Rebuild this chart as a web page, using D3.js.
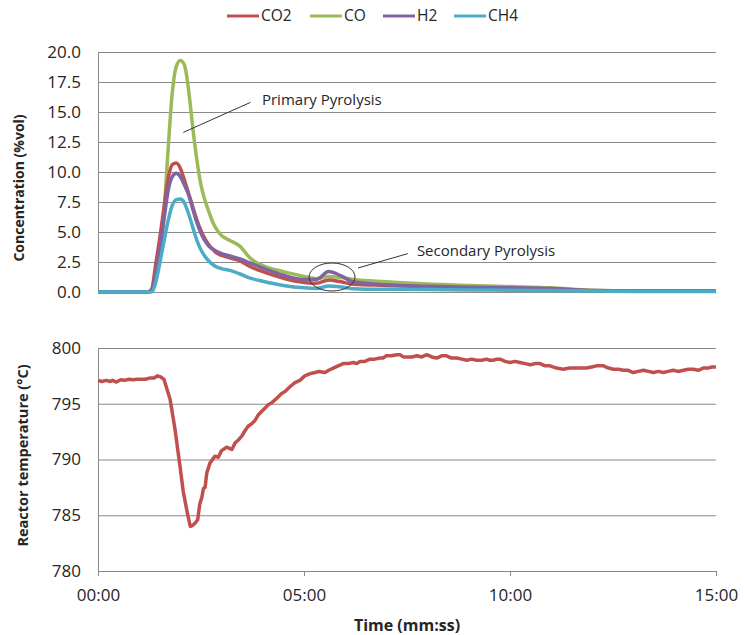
<!DOCTYPE html>
<html>
<head>
<meta charset="utf-8">
<script src="https://cdn.jsdelivr.net/npm/d3@7"></script>
<style>
  body { margin: 0; background: #fff; }
  svg { display: block; font-family: "Open Sans", sans-serif; }
</style>
</head>
<body>
<div id="chart"></div>
<script>
// gas concentrations (%vol) sampled at gasTime (minutes)
const gasTime = [0, 1.0, 1.2, 1.3, 1.4, 1.5, 1.6, 1.7, 1.8, 1.9, 2.0, 2.1, 2.2, 2.3, 2.4, 2.5, 2.6, 2.7, 2.8, 2.9,
  3.0, 3.2, 3.45, 3.7, 4.0, 4.5, 5.0, 5.3, 5.6, 5.9, 6.2, 7.0, 8.0, 9.0, 10.0, 11.0, 12.0, 13.0, 14.0, 15.0];
const co2 = [0, 0, 0, 0.2, 2.3, 4.5, 7.0, 9.4, 10.6, 10.75, 10.3, 9.3, 8.2, 7.1, 6.0, 5.1, 4.4, 3.9, 3.5, 3.2,
  3.05, 2.85, 2.6, 2.1, 1.7, 1.15, 0.8, 0.72, 1.0, 0.85, 0.65, 0.55, 0.42, 0.32, 0.3, 0.25, 0.1, 0.07, 0.07, 0.07];
const co = [0, 0, 0, 0.2, 1.2, 3.0, 6.5, 11.8, 16.5, 18.8, 19.3, 18.9, 16.8, 13.7, 11.0, 8.9, 7.6, 6.6, 5.7, 5.1,
  4.7, 4.3, 3.8, 2.8, 2.2, 1.7, 1.3, 1.1, 1.3, 1.2, 1.05, 0.86, 0.67, 0.55, 0.45, 0.35, 0.15, 0.1, 0.1, 0.1];
const h2 = [0, 0, 0, 0.1, 1.5, 3.5, 6.0, 8.4, 9.6, 9.9, 9.6, 8.9, 8.1, 6.9, 5.8, 4.9, 4.25, 3.8, 3.55, 3.35,
  3.2, 3.0, 2.75, 2.4, 2.0, 1.4, 1.05, 1.05, 1.7, 1.35, 0.85, 0.6, 0.48, 0.4, 0.35, 0.3, 0.12, 0.08, 0.08, 0.08];
const ch4 = [0, 0, 0, 0, 0.8, 2.4, 4.2, 5.9, 7.2, 7.7, 7.75, 7.4, 6.5, 5.4, 4.3, 3.5, 2.95, 2.55, 2.25, 2.05,
  1.95, 1.8, 1.5, 1.15, 0.9, 0.55, 0.35, 0.3, 0.5, 0.42, 0.28, 0.22, 0.2, 0.17, 0.15, 0.12, 0.08, 0.05, 0.05, 0.05];

const gasNames = ["CO2", "CO", "H2", "CH4"];
const gasColors = ["#c0504d", "#9bbb59", "#8064a2", "#4bacc6"];

// reactor temperature (°C)
const tempTime = [0, 0.1, 0.2, 0.3, 0.35, 0.45, 0.55, 0.65, 0.75, 0.85, 0.95, 1.05, 1.15, 1.25, 1.35, 1.45, 1.52, 1.6,
  1.75, 1.87, 1.99, 2.07, 2.18, 2.24, 2.3, 2.36, 2.42, 2.47, 2.52, 2.56, 2.6, 2.64, 2.72, 2.84, 2.92, 3.0, 3.12,
  3.25, 3.33, 3.42, 3.49, 3.57, 3.65, 3.73, 3.81, 3.89, 3.97, 4.05, 4.13, 4.22, 4.34, 4.45, 4.54, 4.65, 4.78, 4.9,
  5.02, 5.15, 5.27, 5.36, 5.51, 5.6, 5.71, 5.83, 5.95, 6.07, 6.2, 6.28, 6.36, 6.48, 6.6, 6.72, 6.84, 6.92, 7.0,
  7.12, 7.25, 7.33, 7.41, 7.49, 7.62, 7.74, 7.86, 7.98, 8.1, 8.22, 8.34, 8.46, 8.58, 8.71, 8.83, 8.95, 9.07, 9.19,
  9.31, 9.43, 9.51, 9.59, 9.68, 9.76, 9.88, 10.0, 10.12, 10.24, 10.37, 10.49, 10.61, 10.73, 10.85, 10.97, 11.13,
  11.29, 11.45, 11.62, 11.74, 11.86, 11.98, 12.1, 12.18, 12.27, 12.39, 12.51, 12.63, 12.75, 12.87, 12.99, 13.11,
  13.24, 13.36, 13.48, 13.6, 13.72, 13.84, 13.96, 14.08, 14.21, 14.33, 14.45, 14.57, 14.69, 14.8, 14.9, 15.0];
const tempValue = [797.1, 797.0, 797.1, 797.0, 797.1, 796.95, 797.15, 797.1, 797.2, 797.15, 797.2, 797.2, 797.2, 797.3, 797.3, 797.5, 797.4, 797.2,
  795.4, 792.7, 789.4, 787.1, 785.0, 784.0, 784.1, 784.3, 784.6, 786.0, 786.6, 787.4, 787.5, 788.8, 789.7, 790.3, 790.2, 790.8, 791.1,
  790.9, 791.5, 791.8, 792.1, 792.6, 793.0, 793.2, 793.5, 794.0, 794.3, 794.6, 794.9, 795.1, 795.5, 795.9, 796.1, 796.5, 796.9, 797.1,
  797.5, 797.7, 797.8, 797.9, 797.8, 798.0, 798.2, 798.4, 798.6, 798.6, 798.7, 798.6, 798.8, 798.8, 799.0, 799.0, 799.1, 799.1, 799.3,
  799.3, 799.4, 799.4, 799.2, 799.2, 799.2, 799.3, 799.2, 799.4, 799.2, 799.1, 799.3, 799.3, 799.1, 799.1, 799.0, 798.9, 799.0, 798.9,
  798.9, 799.0, 798.9, 798.9, 799.0, 799.0, 798.8, 798.7, 798.8, 798.7, 798.6, 798.5, 798.6, 798.6, 798.4, 798.4, 798.2,
  798.1, 798.2, 798.2, 798.2, 798.2, 798.3, 798.4, 798.4, 798.4, 798.2, 798.1, 798.1, 798.0, 798.0, 797.8, 797.9,
  798.0, 797.9, 797.8, 797.9, 797.8, 797.9, 798.0, 797.9, 798.0, 798.1, 798.1, 798.0, 798.2, 798.2, 798.3, 798.3];

const concTicks = [0, 2.5, 5, 7.5, 10, 12.5, 15, 17.5, 20];
const tempTicks = [780, 785, 790, 795, 800];
const timeTicks = [0, 5, 10, 15];
const timeLabels = ["00:00", "05:00", "10:00", "15:00"];

const width = 744;
const height = 635;
const plotLeft = 98;
const plotRight = 716;
const topChart = { top: 52, bottom: 292 };
const botChart = { top: 348, bottom: 571 };
const gridColor = "#8a8a8a";
const textColor = "#262626";

const x = d3.scaleLinear([0, 15], [plotLeft, plotRight]);
const yConc = d3.scaleLinear([0, 20], [topChart.bottom, topChart.top]);
const yTemp = d3.scaleLinear([780, 800], [botChart.bottom, botChart.top]);

const svg = d3.select("div#chart")
  .append("svg")
  .attr("width", width)
  .attr("height", height)
  .attr("viewBox", [0, 0, width, height]);

svg.append("rect").attr("width", width).attr("height", height).attr("fill", "#fff");

// Top panel: gridlines + y axis
const gTop = svg.append("g")
  .attr("transform", `translate(${plotLeft},0)`)
  .call(d3.axisLeft(yConc).tickValues(concTicks).tickFormat(d3.format(".1f"))
    .tickSize(0).tickPadding(17))
  .call(g => g.select(".domain").attr("stroke", gridColor))
  .call(g => g.selectAll(".tick line").clone()
    .attr("x2", plotRight - plotLeft)
    .attr("stroke", gridColor));
gTop.selectAll("text").attr("font-size", 17).attr("fill", textColor).attr("font-family", "Open Sans");

// Bottom panel: gridlines + y axis
const gBot = svg.append("g")
  .attr("transform", `translate(${plotLeft},0)`)
  .call(d3.axisLeft(yTemp).tickValues(tempTicks).tickFormat(d3.format("d"))
    .tickSize(0).tickPadding(17))
  .call(g => g.select(".domain").attr("stroke", gridColor))
  .call(g => g.selectAll(".tick line").clone()
    .attr("x2", plotRight - plotLeft)
    .attr("stroke", gridColor));
gBot.selectAll("text").attr("font-size", 17).attr("fill", textColor).attr("font-family", "Open Sans");

// Bottom x axis
const gx = svg.append("g")
  .attr("transform", `translate(0,${botChart.bottom})`)
  .call(d3.axisBottom(x).tickValues(timeTicks).tickFormat((d, i) => timeLabels[i])
    .tickSize(5).tickSizeOuter(0).tickPadding(13))
  .call(g => g.select(".domain").attr("stroke", gridColor))
  .call(g => g.selectAll(".tick line").attr("stroke", gridColor));
gx.selectAll("text").attr("font-size", 17).attr("fill", textColor).attr("font-family", "Open Sans");

// Gas lines
const gasLine = d3.line()
  .x((d, i) => x(gasTime[i]))
  .y(d => yConc(d))
  .curve(d3.curveMonotoneX);

const gasSeries = [co2, co, h2, ch4];
// draw order so purple/teal sit on top like the original
[1, 0, 2, 3].forEach(k => {
  svg.append("path")
    .attr("d", gasLine(gasSeries[k]))
    .attr("fill", "none")
    .attr("stroke", gasColors[k])
    .attr("stroke-width", 3.5)
    .attr("stroke-linejoin", "round");
});

// Temperature line
const tempLine = d3.line()
  .x((d, i) => x(tempTime[i]))
  .y(d => yTemp(d));

svg.append("path")
  .attr("d", tempLine(tempValue))
  .attr("fill", "none")
  .attr("stroke", "#c0504d")
  .attr("stroke-width", 3.5)
  .attr("stroke-linejoin", "round");

// Annotations
const ann = svg.append("g").attr("fill", "none").attr("stroke", "#333").attr("stroke-width", 1);
ann.append("line")
  .attr("x1", x(2.07)).attr("y1", yConc(13.3))
  .attr("x2", x(3.7)).attr("y2", yConc(15.8));
ann.append("ellipse")
  .attr("cx", x(5.68)).attr("cy", yConc(1.25))
  .attr("rx", 23).attr("ry", 14);
ann.append("line")
  .attr("x1", x(6.31)).attr("y1", yConc(2.0))
  .attr("x2", x(7.52)).attr("y2", yConc(3.2));

svg.append("text")
  .attr("x", x(3.98)).attr("y", yConc(16.0))
  .attr("dy", "0.35em")
  .attr("font-size", 15).attr("fill", textColor)
  .text("Primary Pyrolysis");
svg.append("text")
  .attr("x", x(7.74)).attr("y", yConc(3.45))
  .attr("dy", "0.35em")
  .attr("font-size", 15).attr("fill", textColor)
  .text("Secondary Pyrolysis");

// Axis titles
svg.append("text")
  .attr("transform", `translate(19,${(topChart.top + topChart.bottom) / 2 + 16}) rotate(-90)`)
  .attr("text-anchor", "middle").attr("dy", "0.35em")
  .attr("font-size", 14).attr("font-weight", "bold").attr("fill", textColor)
  .text("Concentration (%vol)");
svg.append("text")
  .attr("transform", `translate(23,${(botChart.top + botChart.bottom) / 2 - 4}) rotate(-90)`)
  .attr("text-anchor", "middle").attr("dy", "0.35em")
  .attr("font-size", 14.5).attr("font-weight", "bold").attr("fill", textColor)
  .text("Reactor temperature (°C)");
svg.append("text")
  .attr("x", (plotLeft + plotRight) / 2)
  .attr("y", 625).attr("dy", "0.35em")
  .attr("text-anchor", "middle")
  .attr("font-size", 16).attr("font-weight", "bold").attr("fill", textColor)
  .text("Time (mm:ss)");

// Legend
const legendX = [227, 310, 383, 454];
const legend = svg.append("g").attr("transform", "translate(0,16)");
gasNames.forEach((name, i) => {
  legend.append("line")
    .attr("x1", legendX[i]).attr("x2", legendX[i] + 32)
    .attr("stroke", gasColors[i]).attr("stroke-width", 3);
  legend.append("text")
    .attr("x", legendX[i] + 34).attr("dy", "0.35em")
    .attr("font-size", 15.5).attr("fill", textColor)
    .text(name);
});
</script>
</body>
</html>
